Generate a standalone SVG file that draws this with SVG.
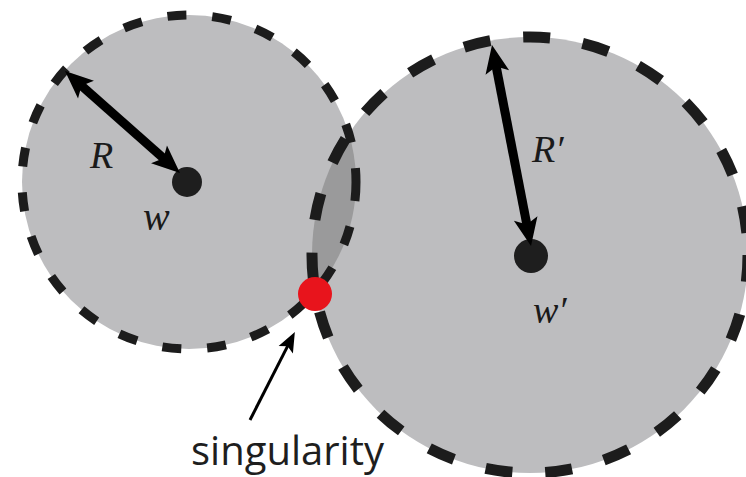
<svg xmlns="http://www.w3.org/2000/svg" width="746" height="477" viewBox="0 0 746 477">
<style>
.fill{fill:#bdbdbf;stroke:none}
.lens{fill:#9a9a9b;stroke:none}
.outl{fill:none;stroke:#1c1c1c}
.ctr{fill:#1e1e1e}
.math{font-family:"Liberation Serif",serif;font-style:italic;fill:#1a1a1a}
.lbl{font-family:"Open Sans",sans-serif;fill:#1e1e1e}
.arr{stroke:#000;fill:none}
</style>
<defs>
<marker id="big" markerUnits="userSpaceOnUse" viewBox="-10 -14 32 28" markerWidth="32" markerHeight="28" refX="0" refY="0" orient="auto-start-reverse">
<path d="M20 0 L-8 -12 L-2 0 L-8 12 Z" fill="#000"/>
</marker>
<marker id="small" markerUnits="userSpaceOnUse" viewBox="-8 -10 24 20" markerWidth="24" markerHeight="20" refX="0" refY="0" orient="auto">
<path d="M14 0 L-6 -8 L-2 0 L-6 8 Z" fill="#000"/>
</marker>
</defs>
<rect width="746" height="477" fill="#fff"/>
<g id="circle-w">
<circle class="fill" cx="189" cy="182" r="167"/>
</g>
<g id="circle-w-prime">
<circle class="fill" cx="530" cy="255" r="218"/>
</g>
<g id="overlap">
<path class="lens" d="M348.9 133.7 A167 167 0 0 1 315.1 291.5 A218 218 0 0 1 348.9 133.7 Z"/>
</g>
<g id="outlines">
<circle class="outl" cx="189" cy="182" r="167" stroke-width="9" stroke-dasharray="19 26"/>
<circle class="outl" cx="530" cy="255" r="218" stroke-width="11" stroke-dasharray="27 33"/>
</g>
<g id="center-w">
<circle class="ctr" cx="187" cy="182" r="15"/>
<text class="math" x="143" y="230" font-size="40">w</text>
</g>
<g id="center-w-prime">
<circle class="ctr" cx="531" cy="256" r="17"/>
<text class="math" x="533" y="323" font-size="38">w′</text>
</g>
<g id="singularity">
<circle cx="315" cy="294" r="17" fill="#e8141c"/>
<text class="lbl" x="191" y="465" font-size="40">singularity</text>
</g>
<g id="connectors">
<line class="arr" x1="80" y1="84.3" x2="165" y2="159.7" stroke-width="9" marker-start="url(#big)" marker-end="url(#big)"/>
<line class="arr" x1="495.8" y1="64.6" x2="527.2" y2="226.4" stroke-width="9" marker-start="url(#big)" marker-end="url(#big)"/>
<line class="arr" x1="250" y1="420" x2="288.5" y2="344.4" stroke-width="3" marker-end="url(#small)"/>
</g>
<g id="labels">
<text class="math" x="90" y="168" font-size="38">R</text>
<text class="math" x="532" y="162" font-size="38">R′</text>
</g>
</svg>
